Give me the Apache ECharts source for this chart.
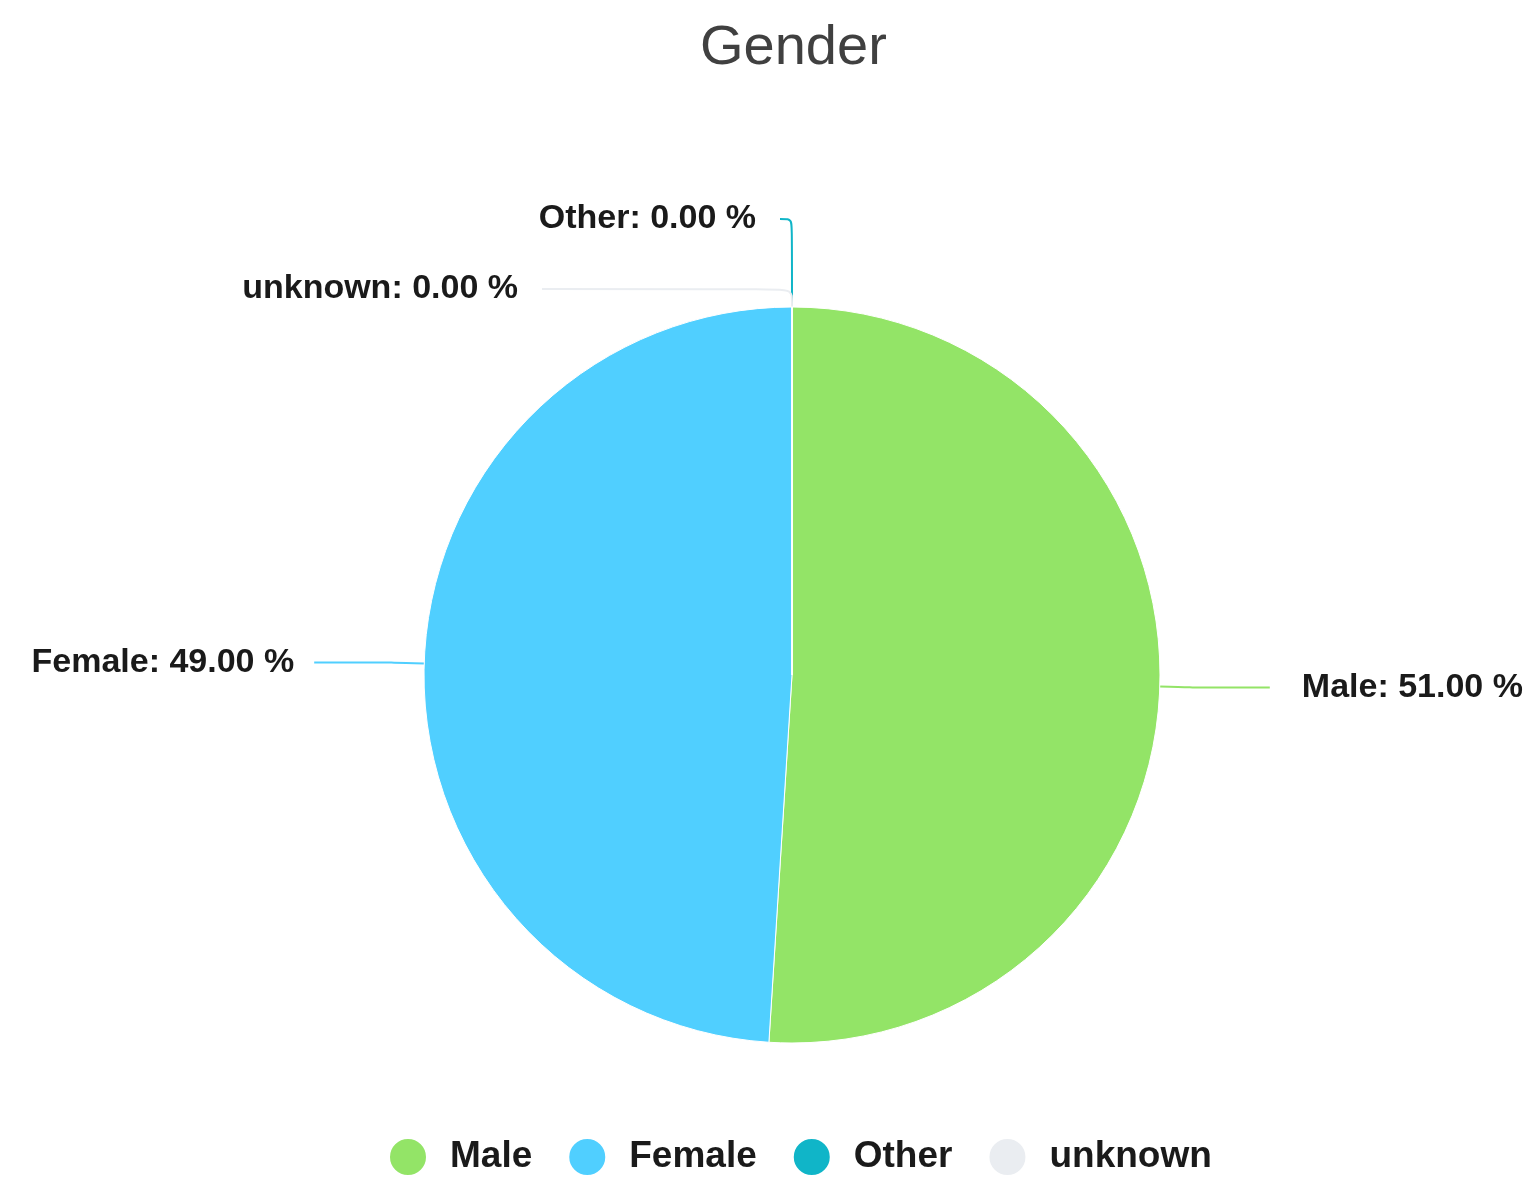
<!DOCTYPE html>
<html>
<head>
<meta charset="utf-8">
<script src="https://cdn.jsdelivr.net/npm/echarts@6/dist/echarts.min.js"></script>
<style>
  html, body { margin: 0; padding: 0; background: #fff; }
  #chart { width: 1540px; height: 1198px; }
</style>
</head>
<body>
<div id="chart"></div>
<script>
// 数据
var categories = ['Male', 'Female', 'Other', 'unknown'];
var values = [51, 49, 0, 0];
var colors = ['#93e467', '#50cfff', '#10b5c8', '#eaedf1'];

// 引导线长度（按类别单独调整）
var lineLens = {
  Male: { length: 30, length2: 80 },
  Female: { length: 30, length2: 80 },
  Other: { length: 88, length2: 12 },
  unknown: { length: 18, length2: 250 }
};
var labelGaps = { Male: 32, Female: 20, Other: 24, unknown: 24 };

var pieData = [];
for (var i = 0; i < categories.length; i++) {
  pieData.push({
    name: categories[i],
    value: values[i],
    labelLine: lineLens[categories[i]],
    label: { distanceToLabelLine: labelGaps[categories[i]] }
  });
}

var chart = echarts.init(document.getElementById('chart'));

var option = {
  color: colors,
  title: {
    text: 'Gender',
    left: 695,
    top: 16,
    textStyle: {
      fontFamily: 'Liberation Sans, Arial, sans-serif',
      fontSize: 56,
      fontWeight: 'normal',
      color: '#404040'
    }
  },
  legend: {
    data: categories,
    left: 383,
    bottom: 16,
    icon: 'circle',
    itemWidth: 38,
    itemHeight: 38,
    itemGap: 35,
    textStyle: {
      fontFamily: 'Liberation Sans, Arial, sans-serif',
      fontSize: 37,
      fontWeight: 'bold',
      color: '#1a1a1a',
      padding: [0, 0, 0, 18]
    }
  },
  series: [
    {
      type: 'pie',
      center: [792, 675],
      radius: 368,
      startAngle: 90,
      clockwise: true,
      data: pieData,
      itemStyle: {
        borderColor: '#fff',
        borderWidth: 1
      },
      label: {
        show: true,
        fontFamily: 'Liberation Sans, Arial, sans-serif',
        fontSize: 34,
        fontWeight: 'bold',
        color: '#1a1a1a',
        formatter: function (p) {
          return p.name + ': ' + p.percent.toFixed(2) + ' %';
        }
      },
      labelLine: {
        smooth: true,
        lineStyle: { width: 2 }
      },
      emphasis: { disabled: true }
    }
  ]
};

chart.setOption(option);
</script>
</body>
</html>
